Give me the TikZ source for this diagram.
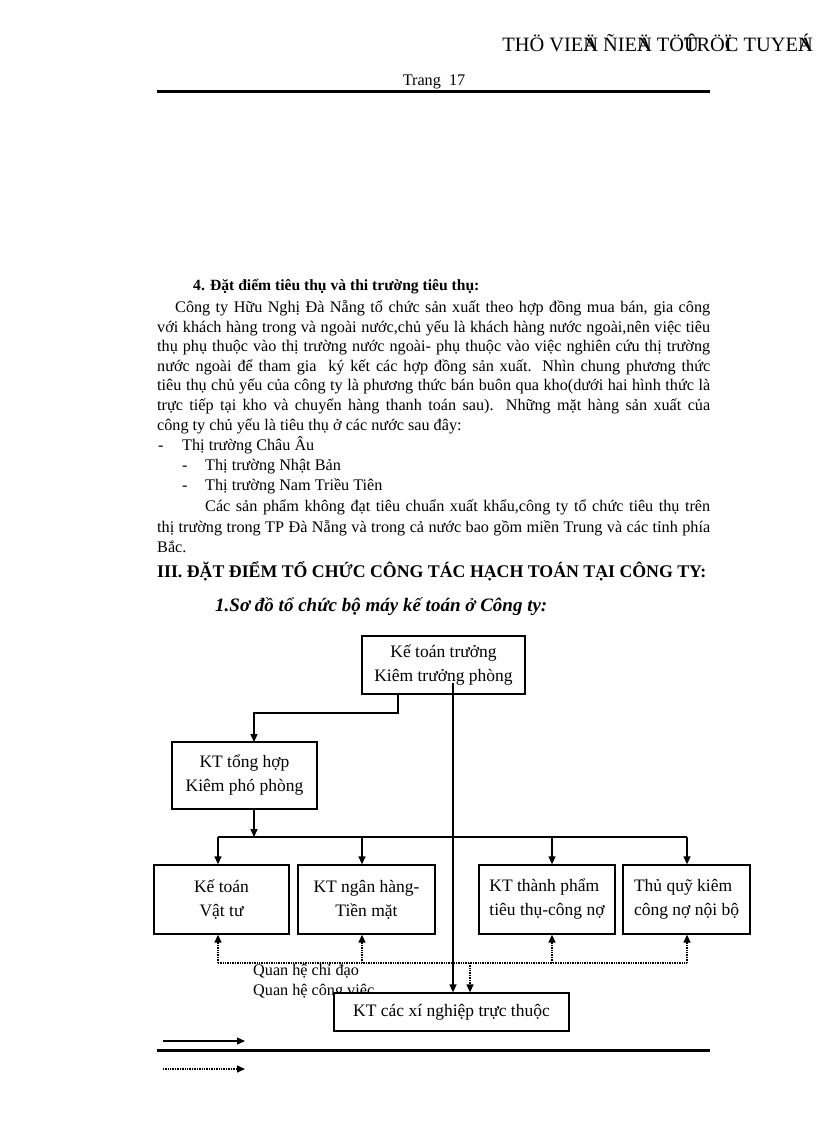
\documentclass[tikz,border=0pt]{standalone}
\usepackage{fontspec}
\setmainfont{Liberation Serif}
\usetikzlibrary{arrows.meta}
\newcommand{\jl}[1]{\makebox[553pt][s]{#1}}
\begin{document}
\begin{tikzpicture}[x=1pt,y=-1pt,
  txt/.style={anchor=base west,inner sep=0pt,font=\fontsize{16.2}{19.8}\selectfont},
  box/.style={draw,line width=1.3pt,fill=white,inner sep=0pt,align=center,font=\fontsize{17.5}{24}\selectfont},
  conn/.style={line width=1.3pt},
  arr/.style={conn,-{Triangle[length=8pt,width=7pt]}},
  dotl/.style={line width=1.3pt,dash pattern=on 1pt off 0.7pt},
  darr/.style={dotl,-{Triangle[length=8pt,width=7pt]}},
  rule/.style={line width=3pt}
]
\useasboundingbox (0,0) rectangle (816,1123);
\fill[white] (0,0) rectangle (816,1123);

% header
\node[anchor=base east,inner sep=0pt,font=\fontsize{20.4}{23}\selectfont] (hdr) at (813,52)
  {THÖ VIE\rlap{Ä}N ÑIE\rlap{Ä}N TÖ\rlap{Û}TRÖ\rlap{Ï}C TUYE\rlap{Á}N};
\node[txt,anchor=base] (page) at (434,86) {Trang \ 17};
\coordinate (r1a) at (157,92); \coordinate (r1b) at (710,92);
\draw[rule] (r1a) -- (r1b);

% body text
\node[txt,font=\fontsize{15.6}{19.8}\selectfont\bfseries] (h4) at (193,290) {4. Đặt điểm tiêu thụ và thi trường tiêu thụ:};
\node[txt] (l1) at (175,312) {\makebox[535pt][s]{Công ty Hữu Nghị Đà Nẵng tổ chức sản xuất theo hợp đồng mua bán, gia công}};
\node[txt] (l2) at (157,332) {\jl{với khách hàng trong và ngoài nước,chủ yếu là khách hàng nước ngoài,nên việc tiêu}};
\node[txt] (l3) at (157,351) {\jl{thụ phụ thuộc vào thị trường nước ngoài- phụ thuộc vào việc nghiên cứu thị trường}};
\node[txt] (l4) at (157,371) {\jl{nước ngoài để tham gia \ ký kết các hợp đồng sản xuất. Nhìn chung phương thức}};
\node[txt] (l5) at (157,390) {\jl{tiêu thụ chủ yếu của công ty là phương thức bán buôn qua kho(dưới hai hình thức là}};
\node[txt] (l6) at (157,410) {\jl{trực tiếp tại kho và chuyển hàng thanh toán sau). Những mặt hàng sản xuất của}};
\node[txt] (l7) at (157,430) {công ty chủ yếu là tiêu thụ ở các nước sau đây:};
\node[txt] (d1) at (158,450) {-};
\node[txt] (l8) at (182,450) {Thị trường Châu Âu};
\node[txt] (d2) at (182,470) {-};
\node[txt] (l9) at (205,470) {Thị trường Nhật Bản};
\node[txt] (d3) at (182,490) {-};
\node[txt] (l10) at (205,490) {Thị trường Nam Triều Tiên};
\node[txt] (l11) at (205,511) {\makebox[505pt][s]{Các sản phẩm không đạt tiêu chuẩn xuất khẩu,công ty tổ chức tiêu thụ trên}};
\node[txt] (l12) at (157,532) {\jl{thị trường trong TP Đà Nẵng và trong cả nước bao gồm miền Trung và các tỉnh phía}};
\node[txt] (l13) at (157,552) {Bắc.};
\node[txt,font=\fontsize{17.8}{19.8}\selectfont\bfseries] (h3) at (157,577) {III. ĐẶT ĐIỂM TỔ CHỨC CÔNG TÁC HẠCH TOÁN TẠI CÔNG TY:};
\node[txt,font=\fontsize{19}{22}\selectfont\bfseries\itshape] (h1) at (215,611) {1.Sơ đồ tổ chức bộ máy kế toán ở Công ty:};

% legend labels (partly hidden under box G)
\node[txt] (q1) at (253,975) {Quan hệ chỉ đạo};
\node[txt] (q2) at (253,995) {Quan hệ công việc};

% boxes
\node[box,minimum width=163pt,minimum height=58pt] (A) at (443.5,665) {Kế toán trưởng\\Kiêm trưởng phòng};
\node[box,minimum width=145pt,minimum height=67pt] (B) at (244.5,775.5) {KT tổng hợp\\Kiêm phó phòng};
\node[box,minimum width=135pt,minimum height=69pt] (C) at (221.5,899.5) {Kế toán\\Vật tư};
\node[box,minimum width=137pt,minimum height=69pt] (D) at (366.5,899.5) {KT ngân hàng-\\Tiền mặt};
\node[box,align=left,minimum width=136pt,minimum height=69pt] (E) at (547,899.5) {KT thành phẩm\\tiêu thụ-công nợ};
\node[box,align=left,minimum width=127pt,minimum height=69pt] (F) at (686.5,899.5) {Thủ quỹ kiêm\\công nợ nội bộ};
\node[box,minimum width=235pt,minimum height=38pt] (G) at (451.5,1012) {KT các xí nghiệp trực thuộc};

% solid connectors
\coordinate (Aout) at (398,694);
\coordinate (Aline) at (453,683);
\coordinate (Bin) at (254,742);
\coordinate (Bout) at (254,809);
\coordinate (bC) at (218,837);
\coordinate (bD) at (362,837);
\coordinate (bE) at (552,837);
\coordinate (bF) at (687,837);
\draw[arr] (Aout) -- (398,713) -| (Bin);
\draw[arr] (Bout) -- (Bout |- bC);
\draw[conn] (bC) -- (bF);
\draw[arr] (bC) -- (bC |- C.north);
\draw[arr] (bD) -- (bD |- D.north);
\draw[arr] (bE) -- (bE |- E.north);
\draw[arr] (bF) -- (bF |- F.north);
\draw[arr] (Aline) -- (Aline |- G.north);

% dotted connectors
\coordinate (dC) at (218,963);
\coordinate (dD) at (362,963);
\coordinate (dE) at (552,963);
\coordinate (dF) at (687,963);
\coordinate (dG) at (470,963);
\draw[dotl] (dC) -- (dF);
\draw[darr] (dC) -- (dC |- C.south);
\draw[darr] (dD) -- (dD |- D.south);
\draw[darr] (dE) -- (dE |- E.south);
\draw[darr] (dF) -- (dF |- F.south);
\draw[darr] (dG) -- (dG |- G.north);

% legend arrows and bottom rule
\coordinate (s1) at (163,1041); \coordinate (s2) at (245,1041);
\coordinate (o1) at (163,1069); \coordinate (o2) at (245,1069);
\draw[arr] (s1) -- (s2);
\draw[darr] (o1) -- (o2);
\coordinate (r2a) at (157,1050); \coordinate (r2b) at (710,1050);
\draw[rule] (r2a) -- (r2b);
\end{tikzpicture}
\end{document}
